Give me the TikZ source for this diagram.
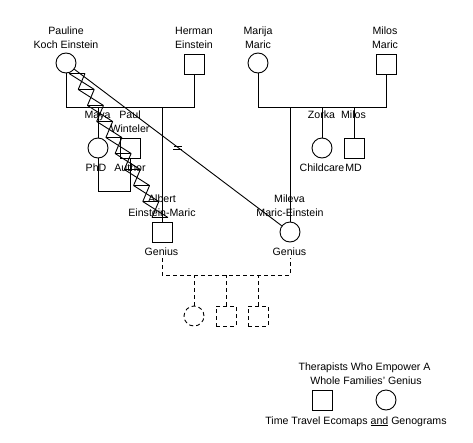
\documentclass[tikz,border=0pt]{standalone}
\usepackage{fontspec}
\setmainfont{Liberation Sans}
\usetikzlibrary{calc}
\begin{document}
\begin{tikzpicture}[x=1pt,y=-1pt,line width=0.9pt,
  every node/.style={font=\fontsize{10.6}{12.7}\selectfont,inner sep=0pt},
  lbl/.style={anchor=base},
  male/.style={draw,rectangle,minimum size=20pt,inner sep=0pt},
  female/.style={draw,circle,minimum size=20pt,inner sep=0pt},
  dsh/.style={dash pattern=on 4pt off 3pt}]
\useasboundingbox[fill=white] (0,0) rectangle (473,442);
% people
\node[female] (pauline) at (66,63) {};
\node[male] (herman) at (194,64) {};
\node[female] (marija) at (258,63) {};
\node[male] (milosM) at (386,64) {};
\node[female] (maya) at (98,148) {};
\node[male] (paul) at (130,148) {};
\node[female] (zorka) at (322,148) {};
\node[male] (milos) at (354,148) {};
\node[male] (albert) at (162,232) {};
\node[female] (mileva) at (290,232) {};
\node[female,dsh] (c1) at (194,316) {};
\node[male,dsh] (c2) at (226,316) {};
\node[male,dsh] (c3) at (258,316) {};
\node[male] (legsq) at (322,400) {};
\node[female] (legci) at (386,400) {};
% labels
\node[lbl] (paulineA) at (66,34) {Pauline};
\node[lbl] (paulineB) at (66,48) {Koch Einstein};
\node[lbl] (hermanA) at (194,34) {Herman};
\node[lbl] (hermanB) at (194,48) {Einstein};
\node[lbl] (marijaA) at (258,34) {Marija};
\node[lbl] (marijaB) at (258,48) {Maric};
\node[lbl] (milosMA) at (385,34) {Milos};
\node[lbl] (milosMB) at (385,48) {Maric};
\node[lbl] (mayaA) at (97.5,118) {Maya};
\node[lbl] (paulA) at (130,118) {Paul};
\node[lbl] (paulB) at (130,132) {Winteler};
\node[lbl] (mayaP) at (96,171) {PhD};
\node[lbl] (paulP) at (130,171) {Author};
\node[lbl] (zorkaA) at (321.5,118) {Zorka};
\node[lbl] (milosA) at (353.5,118) {Milos};
\node[lbl] (zorkaP) at (322,171) {Childcare};
\node[lbl] (milosP) at (353.5,171) {MD};
\node[lbl] (albertA) at (162,202) {Albert};
\node[lbl] (albertB) at (162,216) {Einstein-Maric};
\node[lbl] (milevaA) at (289.5,202) {Mileva};
\node[lbl] (milevaB) at (290,216) {Maric-Einstein};
\node[lbl] (albertP) at (161.5,255) {Genius};
\node[lbl] (milevaP) at (289.5,255) {Genius};
\node[lbl] (legA) at (364.5,370) {Therapists Who Empower A};
\node[lbl] (legB) at (366,384) {Whole Families' Genius};
\node[lbl] (legC) at (356,424) {Time Travel Ecomaps \underline{and} Genograms};
% family lines
\coordinate (einbar) at (0,107);
\coordinate (marbar) at (0,107);
\coordinate (mpbar) at (0,191);
\coordinate (kids) at (0,275);
\coordinate (gen) at (0,258);
\draw (pauline.south) -- (pauline |- einbar) -- (herman |- einbar) -- (herman.south);
\draw (maya.north) -- (maya |- einbar);
\draw (albert.north) -- (albert |- einbar);
\draw (marija.south) -- (marija |- marbar) -- (milosM |- marbar) -- (milosM.south);
\draw (mileva.north) -- (mileva |- marbar);
\draw (zorka.north) -- (zorka |- marbar);
\draw (milos.north) -- (milos |- marbar);
\draw (maya.south) -- (maya |- mpbar) -- (paul |- mpbar) -- (paul.south);
% children (dashed)
\draw[dsh] (albert |- gen) -- (albert |- kids) -- (mileva |- kids) -- (mileva |- gen);
\draw[dsh] (c1.north) -- (c1 |- kids);
\draw[dsh] (c2.north) -- (c2 |- kids);
\draw[dsh] (c3.north) -- (c3 |- kids);
% Pauline -- Mileva with = mark
\draw (pauline) -- coordinate[pos=0.5] (pm) (mileva);
\draw ([shift={(-4,-1.5)}]pm) -- ++(8,0);
\draw ([shift={(-5,1.5)}]pm) -- ++(9,0);
% hourglass chain Pauline -- Albert
\coordinate (z0) at ([xshift=11pt]pauline.south);
\coordinate (z9) at ([shift={(-2,-4)}]albert.north);
\foreach \k in {0,...,9}{
  \draw ([xshift=-8pt]$(z0)!\k/9!(z9)$) -- ([xshift=8pt]$(z0)!\k/9!(z9)$);
}
\foreach \k [evaluate=\k as \n using \k+1] in {0,...,8}{
  \draw ([xshift=-8pt]$(z0)!\k/9!(z9)$) -- ([xshift=8pt]$(z0)!\n/9!(z9)$);
  \draw ([xshift=8pt]$(z0)!\k/9!(z9)$) -- ([xshift=-8pt]$(z0)!\n/9!(z9)$);
}
\end{tikzpicture}
\end{document}
